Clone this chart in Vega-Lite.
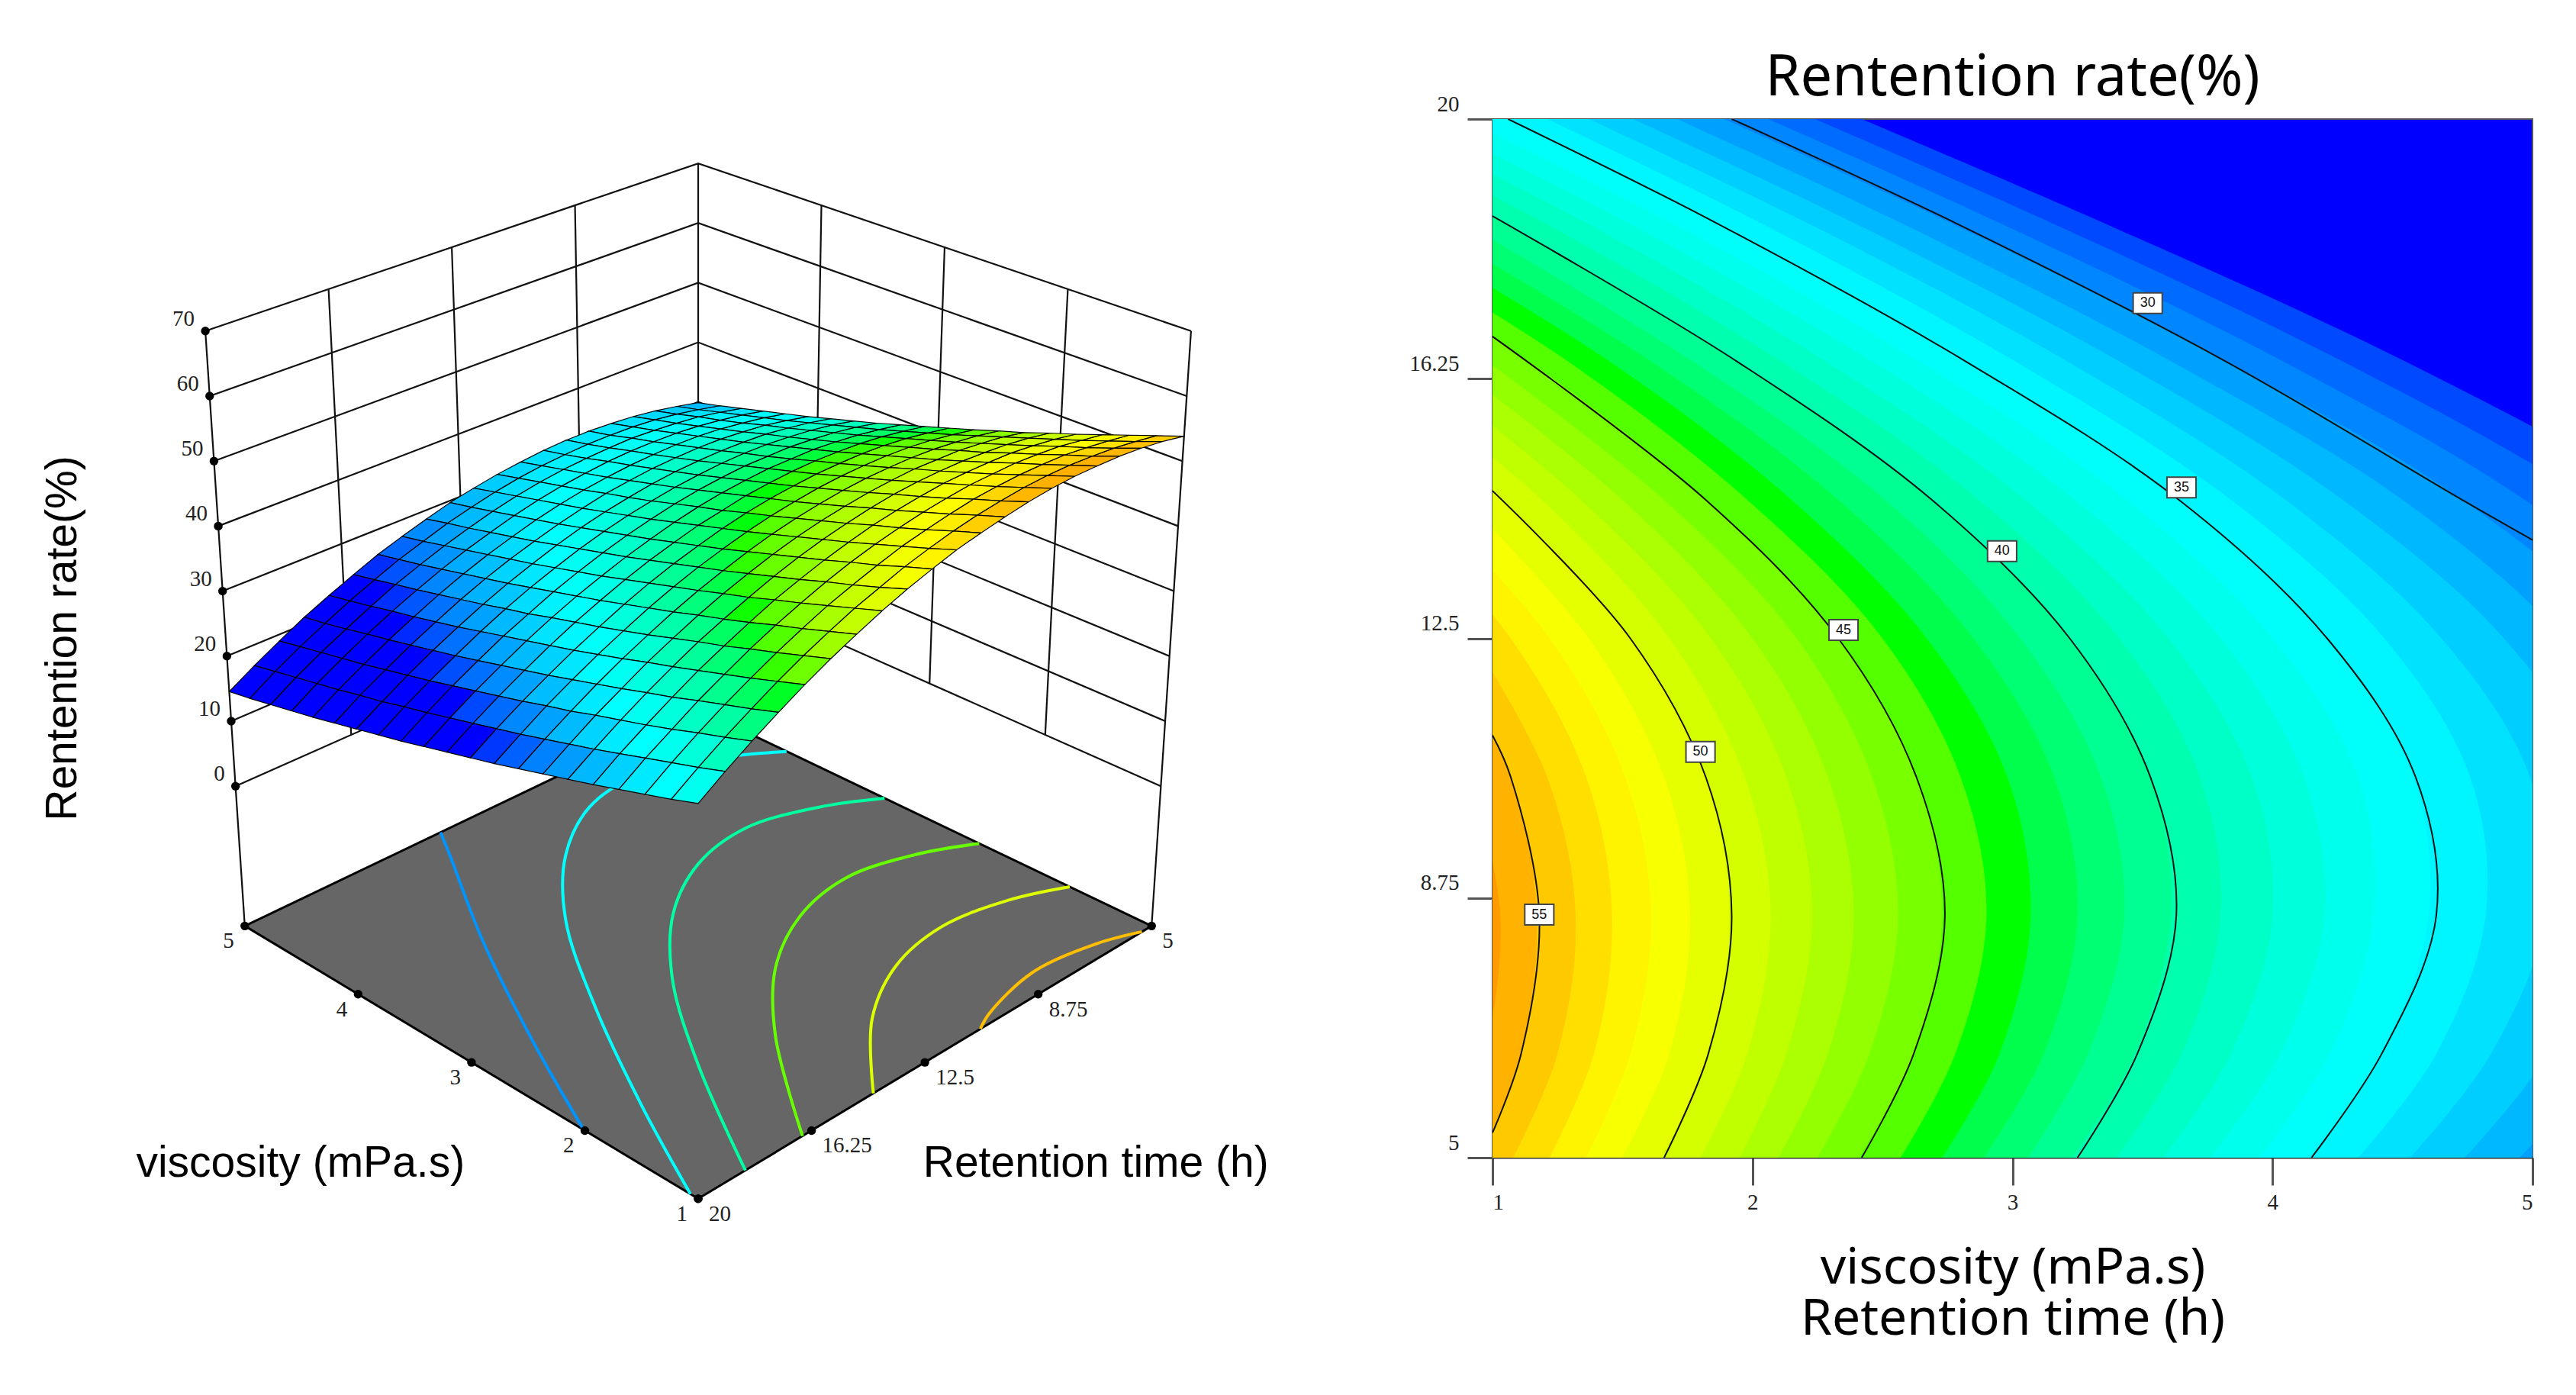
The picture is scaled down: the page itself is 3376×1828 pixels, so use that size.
{"$schema":"https://vega.github.io/schema/vega-lite/v6.json","padding":{"left":0,"top":65,"right":0,"bottom":40},"background":"white","spacing":0,"config":{"view":{"stroke":null}},
"datasets":{
"bands":[
{"L":27,"t":5,"v":5.86},{"L":27,"t":6.5,"v":6.29},{"L":27,"t":8.5,"v":6.62},{"L":27,"t":10.5,"v":6.6},{"L":27,"t":12.5,"v":6.21},{"L":27,"t":14.5,"v":5.49},{"L":27,"t":16.5,"v":4.51},{"L":27,"t":18.5,"v":3.35},{"L":27,"t":20,"v":2.42},
{"L":28,"t":5,"v":5.62},{"L":28,"t":6.5,"v":6.02},{"L":28,"t":8.5,"v":6.32},{"L":28,"t":10.5,"v":6.29},{"L":28,"t":12.5,"v":5.91},{"L":28,"t":14.5,"v":5.22},{"L":28,"t":16.5,"v":4.27},{"L":28,"t":18.5,"v":3.15},{"L":28,"t":20,"v":2.24},
{"L":29,"t":5,"v":5.39},{"L":29,"t":6.5,"v":5.77},{"L":29,"t":8.5,"v":6.04},{"L":29,"t":10.5,"v":6},{"L":29,"t":12.5,"v":5.63},{"L":29,"t":14.5,"v":4.97},{"L":29,"t":16.5,"v":4.04},{"L":29,"t":18.5,"v":2.95},{"L":29,"t":20,"v":2.06},
{"L":30,"t":5,"v":5.17},{"L":30,"t":6.5,"v":5.52},{"L":30,"t":8.5,"v":5.78},{"L":30,"t":10.5,"v":5.73},{"L":30,"t":12.5,"v":5.37},{"L":30,"t":14.5,"v":4.73},{"L":30,"t":16.5,"v":3.82},{"L":30,"t":18.5,"v":2.76},{"L":30,"t":20,"v":1.89},
{"L":31,"t":5,"v":4.95},{"L":31,"t":6.5,"v":5.29},{"L":31,"t":8.5,"v":5.53},{"L":31,"t":10.5,"v":5.48},{"L":31,"t":12.5,"v":5.12},{"L":31,"t":14.5,"v":4.5},{"L":31,"t":16.5,"v":3.61},{"L":31,"t":18.5,"v":2.57},{"L":31,"t":20,"v":1.71},
{"L":32,"t":5,"v":4.74},{"L":32,"t":6.5,"v":5.06},{"L":32,"t":8.5,"v":5.29},{"L":32,"t":10.5,"v":5.24},{"L":32,"t":12.5,"v":4.89},{"L":32,"t":14.5,"v":4.27},{"L":32,"t":16.5,"v":3.41},{"L":32,"t":18.5,"v":2.39},{"L":32,"t":20,"v":1.54},
{"L":33,"t":5,"v":4.53},{"L":33,"t":6.5,"v":4.84},{"L":33,"t":8.5,"v":5.05},{"L":33,"t":10.5,"v":4.99},{"L":33,"t":12.5,"v":4.65},{"L":33,"t":14.5,"v":4.05},{"L":33,"t":16.5,"v":3.21},{"L":33,"t":18.5,"v":2.21},{"L":33,"t":20,"v":1.37},
{"L":34,"t":5,"v":4.33},{"L":34,"t":6.5,"v":4.63},{"L":34,"t":8.5,"v":4.82},{"L":34,"t":10.5,"v":4.76},{"L":34,"t":12.5,"v":4.43},{"L":34,"t":14.5,"v":3.84},{"L":34,"t":16.5,"v":3.01},{"L":34,"t":18.5,"v":2.03},{"L":34,"t":20,"v":1.21},
{"L":35,"t":5,"v":4.14},{"L":35,"t":6.5,"v":4.42},{"L":35,"t":8.5,"v":4.6},{"L":35,"t":10.5,"v":4.54},{"L":35,"t":12.5,"v":4.21},{"L":35,"t":14.5,"v":3.64},{"L":35,"t":16.5,"v":2.82},{"L":35,"t":18.5,"v":1.86},{"L":35,"t":20,"v":1.05},
{"L":36,"t":5,"v":3.95},{"L":36,"t":6.5,"v":4.22},{"L":36,"t":8.5,"v":4.39},{"L":36,"t":10.5,"v":4.33},{"L":36,"t":12.5,"v":4},{"L":36,"t":14.5,"v":3.44},{"L":36,"t":16.5,"v":2.64},{"L":36,"t":18.5,"v":1.69},{"L":36,"t":20,"v":0.89},
{"L":37,"t":5,"v":3.76},{"L":37,"t":6.5,"v":4.03},{"L":37,"t":8.5,"v":4.2},{"L":37,"t":10.5,"v":4.12},{"L":37,"t":12.5,"v":3.8},{"L":37,"t":14.5,"v":3.24},{"L":37,"t":16.5,"v":2.46},{"L":37,"t":18.5,"v":1.52},{"L":37,"t":20,"v":0.73},
{"L":38,"t":5,"v":3.58},{"L":38,"t":6.5,"v":3.84},{"L":38,"t":8.5,"v":4},{"L":38,"t":10.5,"v":3.92},{"L":38,"t":12.5,"v":3.6},{"L":38,"t":14.5,"v":3.05},{"L":38,"t":16.5,"v":2.28},{"L":38,"t":18.5,"v":1.36},{"L":38,"t":20,"v":0.57},
{"L":39,"t":5,"v":3.4},{"L":39,"t":6.5,"v":3.65},{"L":39,"t":8.5,"v":3.8},{"L":39,"t":10.5,"v":3.72},{"L":39,"t":12.5,"v":3.41},{"L":39,"t":14.5,"v":2.87},{"L":39,"t":16.5,"v":2.11},{"L":39,"t":18.5,"v":1.2},{"L":39,"t":20,"v":0.41},
{"L":40,"t":5,"v":3.23},{"L":40,"t":6.5,"v":3.47},{"L":40,"t":8.5,"v":3.61},{"L":40,"t":10.5,"v":3.53},{"L":40,"t":12.5,"v":3.22},{"L":40,"t":14.5,"v":2.69},{"L":40,"t":16.5,"v":1.94},{"L":40,"t":18.5,"v":1.04},{"L":40,"t":20,"v":0.26},
{"L":41,"t":5,"v":3.06},{"L":41,"t":6.5,"v":3.29},{"L":41,"t":8.5,"v":3.43},{"L":41,"t":10.5,"v":3.34},{"L":41,"t":12.5,"v":3.03},{"L":41,"t":14.5,"v":2.51},{"L":41,"t":16.5,"v":1.77},{"L":41,"t":18.5,"v":0.89},
{"L":42,"t":5,"v":2.89},{"L":42,"t":6.5,"v":3.12},{"L":42,"t":8.5,"v":3.25},{"L":42,"t":10.5,"v":3.16},{"L":42,"t":12.5,"v":2.85},{"L":42,"t":14.5,"v":2.33},{"L":42,"t":16.5,"v":1.61},{"L":42,"t":18.5,"v":0.73},
{"L":43,"t":5,"v":2.73},{"L":43,"t":6.5,"v":2.95},{"L":43,"t":8.5,"v":3.07},{"L":43,"t":10.5,"v":2.98},{"L":43,"t":12.5,"v":2.67},{"L":43,"t":14.5,"v":2.15},{"L":43,"t":16.5,"v":1.45},{"L":43,"t":18.5,"v":0.58},
{"L":44,"t":5,"v":2.57},{"L":44,"t":6.5,"v":2.78},{"L":44,"t":8.5,"v":2.9},{"L":44,"t":10.5,"v":2.8},{"L":44,"t":12.5,"v":2.5},{"L":44,"t":14.5,"v":1.98},{"L":44,"t":16.5,"v":1.29},{"L":44,"t":18.5,"v":0.43},
{"L":45,"t":5,"v":2.41},{"L":45,"t":6.5,"v":2.62},{"L":45,"t":8.5,"v":2.73},{"L":45,"t":10.5,"v":2.63},{"L":45,"t":12.5,"v":2.33},{"L":45,"t":14.5,"v":1.82},{"L":45,"t":16.5,"v":1.14},{"L":45,"t":18.5,"v":0.29},
{"L":46,"t":5,"v":2.25},{"L":46,"t":6.5,"v":2.45},{"L":46,"t":8.5,"v":2.56},{"L":46,"t":10.5,"v":2.46},{"L":46,"t":12.5,"v":2.17},{"L":46,"t":14.5,"v":1.66},{"L":46,"t":16.5,"v":0.98},
{"L":47,"t":5,"v":2.1},{"L":47,"t":6.5,"v":2.29},{"L":47,"t":8.5,"v":2.39},{"L":47,"t":10.5,"v":2.29},{"L":47,"t":12.5,"v":2},{"L":47,"t":14.5,"v":1.5},{"L":47,"t":16.5,"v":0.83},
{"L":48,"t":5,"v":1.95},{"L":48,"t":6.5,"v":2.13},{"L":48,"t":8.5,"v":2.23},{"L":48,"t":10.5,"v":2.13},{"L":48,"t":12.5,"v":1.84},{"L":48,"t":14.5,"v":1.34},{"L":48,"t":16.5,"v":0.68},
{"L":49,"t":5,"v":1.8},{"L":49,"t":6.5,"v":1.98},{"L":49,"t":8.5,"v":2.07},{"L":49,"t":10.5,"v":1.97},{"L":49,"t":12.5,"v":1.68},{"L":49,"t":14.5,"v":1.19},{"L":49,"t":16.5,"v":0.53},
{"L":50,"t":5,"v":1.65},{"L":50,"t":6.5,"v":1.83},{"L":50,"t":8.5,"v":1.91},{"L":50,"t":10.5,"v":1.82},{"L":50,"t":12.5,"v":1.53},{"L":50,"t":14.5,"v":1.04},{"L":50,"t":16.5,"v":0.39},
{"L":51,"t":5,"v":1.5},{"L":51,"t":6.5,"v":1.68},{"L":51,"t":8.5,"v":1.76},{"L":51,"t":10.5,"v":1.66},{"L":51,"t":12.5,"v":1.37},{"L":51,"t":14.5,"v":0.89},
{"L":52,"t":5,"v":1.36},{"L":52,"t":6.5,"v":1.53},{"L":52,"t":8.5,"v":1.61},{"L":52,"t":10.5,"v":1.51},{"L":52,"t":12.5,"v":1.22},{"L":52,"t":14.5,"v":0.74},
{"L":53,"t":5,"v":1.22},{"L":53,"t":6.5,"v":1.39},{"L":53,"t":8.5,"v":1.46},{"L":53,"t":10.5,"v":1.36},{"L":53,"t":12.5,"v":1.07},{"L":53,"t":14.5,"v":0.6},
{"L":54,"t":5,"v":1.08},{"L":54,"t":6.5,"v":1.25},{"L":54,"t":8.5,"v":1.32},{"L":54,"t":10.5,"v":1.21},{"L":54,"t":12.5,"v":0.92},
{"L":55,"t":5,"v":0.95},{"L":55,"t":6.5,"v":1.11},{"L":55,"t":8.5,"v":1.17},{"L":55,"t":10.5,"v":1.07},{"L":55,"t":12.5,"v":0.77},
{"L":56,"t":5,"v":0.82},{"L":56,"t":6.5,"v":0.97},{"L":56,"t":8.5,"v":1.03},{"L":56,"t":10.5,"v":0.92}
],
"contours":[
{"L":30,"t":13.92,"v":5},{"L":30,"t":14.5,"v":4.73},{"L":30,"t":16.5,"v":3.82},{"L":30,"t":18.5,"v":2.78},{"L":30,"t":20,"v":1.92},
{"L":35,"t":5,"v":4.15},{"L":35,"t":6.5,"v":4.42},{"L":35,"t":8.5,"v":4.63},{"L":35,"t":10.5,"v":4.55},{"L":35,"t":12.5,"v":4.21},{"L":35,"t":14.5,"v":3.64},{"L":35,"t":16.5,"v":2.82},{"L":35,"t":18.5,"v":1.86},{"L":35,"t":20,"v":1.06},
{"L":40,"t":5,"v":3.25},{"L":40,"t":6.5,"v":3.48},{"L":40,"t":8.5,"v":3.63},{"L":40,"t":10.5,"v":3.53},{"L":40,"t":12.5,"v":3.22},{"L":40,"t":14.5,"v":2.69},{"L":40,"t":16.5,"v":1.94},{"L":40,"t":18.6,"v":1},
{"L":45,"t":5,"v":2.42},{"L":45,"t":6.5,"v":2.62},{"L":45,"t":8.5,"v":2.74},{"L":45,"t":10.5,"v":2.63},{"L":45,"t":12.5,"v":2.33},{"L":45,"t":14.5,"v":1.82},{"L":45,"t":16.86,"v":1},
{"L":50,"t":5,"v":1.66},{"L":50,"t":6.5,"v":1.83},{"L":50,"t":8.5,"v":1.92},{"L":50,"t":10.5,"v":1.82},{"L":50,"t":12.5,"v":1.53},{"L":50,"t":14.63,"v":1},
{"L":55,"t":5.36,"v":1},{"L":55,"t":6.5,"v":1.11},{"L":55,"t":8.5,"v":1.18},{"L":55,"t":10.5,"v":1.07},{"L":55,"t":11.1,"v":1}
],
"labels":[
{"v":3.52,"t":17.34,"lab":"30"},{"v":3.65,"t":14.68,"lab":"35"},{"v":2.96,"t":13.76,"lab":"40"},{"v":2.35,"t":12.62,"lab":"45"},{"v":1.8,"t":10.86,"lab":"50"},{"v":1.18,"t":8.51,"lab":"55"}
],
"frame":[
{"kind":"wall","id":"z0","o":0,"v":5,"t":20,"z":0},{"kind":"wall","id":"z0","o":1,"v":5,"t":5,"z":0},{"kind":"wall","id":"z0","o":2,"v":1,"t":5,"z":0},
{"kind":"wall","id":"z10","o":0,"v":5,"t":20,"z":10},{"kind":"wall","id":"z10","o":1,"v":5,"t":5,"z":10},{"kind":"wall","id":"z10","o":2,"v":1,"t":5,"z":10},
{"kind":"wall","id":"z20","o":0,"v":5,"t":20,"z":20},{"kind":"wall","id":"z20","o":1,"v":5,"t":5,"z":20},{"kind":"wall","id":"z20","o":2,"v":1,"t":5,"z":20},
{"kind":"wall","id":"z30","o":0,"v":5,"t":20,"z":30},{"kind":"wall","id":"z30","o":1,"v":5,"t":5,"z":30},{"kind":"wall","id":"z30","o":2,"v":1,"t":5,"z":30},
{"kind":"wall","id":"z40","o":0,"v":5,"t":20,"z":40},{"kind":"wall","id":"z40","o":1,"v":5,"t":5,"z":40},{"kind":"wall","id":"z40","o":2,"v":1,"t":5,"z":40},
{"kind":"wall","id":"z50","o":0,"v":5,"t":20,"z":50},{"kind":"wall","id":"z50","o":1,"v":5,"t":5,"z":50},{"kind":"wall","id":"z50","o":2,"v":1,"t":5,"z":50},
{"kind":"wall","id":"z60","o":0,"v":5,"t":20,"z":60},{"kind":"wall","id":"z60","o":1,"v":5,"t":5,"z":60},{"kind":"wall","id":"z60","o":2,"v":1,"t":5,"z":60},
{"kind":"wall","id":"z70","o":0,"v":5,"t":20,"z":70},{"kind":"wall","id":"z70","o":1,"v":5,"t":5,"z":70},{"kind":"wall","id":"z70","o":2,"v":1,"t":5,"z":70},
{"kind":"wall","id":"t16","o":0,"v":5,"t":16.25,"z":0},{"kind":"wall","id":"t16","o":1,"v":5,"t":16.25,"z":70},
{"kind":"wall","id":"t12","o":0,"v":5,"t":12.5,"z":0},{"kind":"wall","id":"t12","o":1,"v":5,"t":12.5,"z":70},
{"kind":"wall","id":"t8","o":0,"v":5,"t":8.75,"z":0},{"kind":"wall","id":"t8","o":1,"v":5,"t":8.75,"z":70},
{"kind":"wall","id":"v2","o":0,"v":2,"t":5,"z":0},{"kind":"wall","id":"v2","o":1,"v":2,"t":5,"z":70},
{"kind":"wall","id":"v3","o":0,"v":3,"t":5,"z":0},{"kind":"wall","id":"v3","o":1,"v":3,"t":5,"z":70},
{"kind":"wall","id":"v4","o":0,"v":4,"t":5,"z":0},{"kind":"wall","id":"v4","o":1,"v":4,"t":5,"z":70},
{"kind":"wall","id":"cl","o":0,"v":5,"t":20,"z":-21.5},{"kind":"wall","id":"cl","o":1,"v":5,"t":20,"z":70},
{"kind":"wall","id":"cb","o":0,"v":5,"t":5,"z":-21.5},{"kind":"wall","id":"cb","o":1,"v":5,"t":5,"z":70},
{"kind":"wall","id":"cr","o":0,"v":1,"t":5,"z":-21.5},{"kind":"wall","id":"cr","o":1,"v":1,"t":5,"z":70},
{"kind":"floor","o":0,"v":1,"t":20,"z":-21.5},{"kind":"floor","o":1,"v":5,"t":20,"z":-21.5},{"kind":"floor","o":2,"v":5,"t":5,"z":-21.5},{"kind":"floor","o":3,"v":1,"t":5,"z":-21.5},{"kind":"floor","o":4,"v":1,"t":20,"z":-21.5},
{"kind":"tz","v":5,"t":20,"z":0,"lab":"0"},{"kind":"tz","v":5,"t":20,"z":10,"lab":"10"},{"kind":"tz","v":5,"t":20,"z":20,"lab":"20"},{"kind":"tz","v":5,"t":20,"z":30,"lab":"30"},{"kind":"tz","v":5,"t":20,"z":40,"lab":"40"},{"kind":"tz","v":5,"t":20,"z":50,"lab":"50"},{"kind":"tz","v":5,"t":20,"z":60,"lab":"60"},{"kind":"tz","v":5,"t":20,"z":70,"lab":"70"},
{"kind":"tv","v":1,"t":20,"z":-21.5,"lab":"1"},{"kind":"tv","v":2,"t":20,"z":-21.5,"lab":"2"},{"kind":"tv","v":3,"t":20,"z":-21.5,"lab":"3"},{"kind":"tv","v":4,"t":20,"z":-21.5,"lab":"4"},{"kind":"tv","v":5,"t":20,"z":-21.5,"lab":"5"},
{"kind":"tt","v":1,"t":20,"z":-21.5,"lab":"20"},{"kind":"tt","v":1,"t":16.25,"z":-21.5,"lab":"16.25"},{"kind":"tt","v":1,"t":12.5,"z":-21.5,"lab":"12.5"},{"kind":"tt","v":1,"t":8.75,"z":-21.5,"lab":"8.75"},{"kind":"tt","v":1,"t":5,"z":-21.5,"lab":"5"},
{"kind":"th","v":2.93,"t":25.92,"z":-21.5,"lab":"viscosity (mPa.s)"},{"kind":"th","v":-0.578,"t":12.76,"z":-21.5,"lab":"Retention time (h)"},
{"kind":"tr","v":5.49,"t":23.3,"z":24.25,"lab":"Rentention rate(%)"}
],
"surface":[
{"v":1,"t":5,"z":54.6},{"v":1.2,"t":5,"z":53.2},{"v":1.4,"t":5,"z":51.8},{"v":1.6,"t":5,"z":50.4},{"v":1.8,"t":5,"z":49},{"v":2,"t":5,"z":47.7},{"v":2.2,"t":5,"z":46.3},{"v":2.4,"t":5,"z":45.1},{"v":2.6,"t":5,"z":43.8},{"v":2.8,"t":5,"z":42.6},{"v":3,"t":5,"z":41.4},{"v":3.2,"t":5,"z":40.2},{"v":3.4,"t":5,"z":39},{"v":3.6,"t":5,"z":37.9},{"v":3.8,"t":5,"z":36.8},{"v":4,"t":5,"z":35.7},{"v":4.2,"t":5,"z":34.7},{"v":4.4,"t":5,"z":33.7},{"v":4.6,"t":5,"z":32.7},{"v":4.8,"t":5,"z":31.7},{"v":5,"t":5,"z":30.8},
{"v":1,"t":5.75,"z":55.3},{"v":1.2,"t":5.75,"z":53.8},{"v":1.4,"t":5.75,"z":52.4},{"v":1.6,"t":5.75,"z":51},{"v":1.8,"t":5.75,"z":49.7},{"v":2,"t":5.75,"z":48.4},{"v":2.2,"t":5.75,"z":47.1},{"v":2.4,"t":5.75,"z":45.8},{"v":2.6,"t":5.75,"z":44.5},{"v":2.8,"t":5.75,"z":43.3},{"v":3,"t":5.75,"z":42.1},{"v":3.2,"t":5.75,"z":40.9},{"v":3.4,"t":5.75,"z":39.8},{"v":3.6,"t":5.75,"z":38.7},{"v":3.8,"t":5.75,"z":37.6},{"v":4,"t":5.75,"z":36.5},{"v":4.2,"t":5.75,"z":35.5},{"v":4.4,"t":5.75,"z":34.5},{"v":4.6,"t":5.75,"z":33.5},{"v":4.8,"t":5.75,"z":32.5},{"v":5,"t":5.75,"z":31.6},
{"v":1,"t":6.5,"z":55.8},{"v":1.2,"t":6.5,"z":54.3},{"v":1.4,"t":6.5,"z":52.9},{"v":1.6,"t":6.5,"z":51.6},{"v":1.8,"t":6.5,"z":50.2},{"v":2,"t":6.5,"z":48.9},{"v":2.2,"t":6.5,"z":47.6},{"v":2.4,"t":6.5,"z":46.3},{"v":2.6,"t":6.5,"z":45.1},{"v":2.8,"t":6.5,"z":43.9},{"v":3,"t":6.5,"z":42.7},{"v":3.2,"t":6.5,"z":41.5},{"v":3.4,"t":6.5,"z":40.4},{"v":3.6,"t":6.5,"z":39.3},{"v":3.8,"t":6.5,"z":38.2},{"v":4,"t":6.5,"z":37.2},{"v":4.2,"t":6.5,"z":36.1},{"v":4.4,"t":6.5,"z":35.1},{"v":4.6,"t":6.5,"z":34.2},{"v":4.8,"t":6.5,"z":33.2},{"v":5,"t":6.5,"z":32.3},
{"v":1,"t":7.25,"z":56.1},{"v":1.2,"t":7.25,"z":54.6},{"v":1.4,"t":7.25,"z":53.3},{"v":1.6,"t":7.25,"z":51.9},{"v":1.8,"t":7.25,"z":50.6},{"v":2,"t":7.25,"z":49.2},{"v":2.2,"t":7.25,"z":48},{"v":2.4,"t":7.25,"z":46.7},{"v":2.6,"t":7.25,"z":45.5},{"v":2.8,"t":7.25,"z":44.3},{"v":3,"t":7.25,"z":43.1},{"v":3.2,"t":7.25,"z":41.9},{"v":3.4,"t":7.25,"z":40.8},{"v":3.6,"t":7.25,"z":39.7},{"v":3.8,"t":7.25,"z":38.7},{"v":4,"t":7.25,"z":37.6},{"v":4.2,"t":7.25,"z":36.6},{"v":4.4,"t":7.25,"z":35.6},{"v":4.6,"t":7.25,"z":34.6},{"v":4.8,"t":7.25,"z":33.7},{"v":5,"t":7.25,"z":32.8},
{"v":1,"t":8,"z":56.2},{"v":1.2,"t":8,"z":54.8},{"v":1.4,"t":8,"z":53.4},{"v":1.6,"t":8,"z":52.1},{"v":1.8,"t":8,"z":50.7},{"v":2,"t":8,"z":49.4},{"v":2.2,"t":8,"z":48.1},{"v":2.4,"t":8,"z":46.9},{"v":2.6,"t":8,"z":45.7},{"v":2.8,"t":8,"z":44.5},{"v":3,"t":8,"z":43.3},{"v":3.2,"t":8,"z":42.2},{"v":3.4,"t":8,"z":41.1},{"v":3.6,"t":8,"z":40},{"v":3.8,"t":8,"z":38.9},{"v":4,"t":8,"z":37.9},{"v":4.2,"t":8,"z":36.9},{"v":4.4,"t":8,"z":35.9},{"v":4.6,"t":8,"z":34.9},{"v":4.8,"t":8,"z":34},{"v":5,"t":8,"z":33.1},
{"v":1,"t":8.75,"z":56.2},{"v":1.2,"t":8.75,"z":54.8},{"v":1.4,"t":8.75,"z":53.4},{"v":1.6,"t":8.75,"z":52},{"v":1.8,"t":8.75,"z":50.7},{"v":2,"t":8.75,"z":49.4},{"v":2.2,"t":8.75,"z":48.2},{"v":2.4,"t":8.75,"z":46.9},{"v":2.6,"t":8.75,"z":45.7},{"v":2.8,"t":8.75,"z":44.5},{"v":3,"t":8.75,"z":43.4},{"v":3.2,"t":8.75,"z":42.2},{"v":3.4,"t":8.75,"z":41.1},{"v":3.6,"t":8.75,"z":40.1},{"v":3.8,"t":8.75,"z":39},{"v":4,"t":8.75,"z":38},{"v":4.2,"t":8.75,"z":37},{"v":4.4,"t":8.75,"z":36},{"v":4.6,"t":8.75,"z":35.1},{"v":4.8,"t":8.75,"z":34.1},{"v":5,"t":8.75,"z":33.3},
{"v":1,"t":9.5,"z":56},{"v":1.2,"t":9.5,"z":54.6},{"v":1.4,"t":9.5,"z":53.2},{"v":1.6,"t":9.5,"z":51.9},{"v":1.8,"t":9.5,"z":50.6},{"v":2,"t":9.5,"z":49.3},{"v":2.2,"t":9.5,"z":48},{"v":2.4,"t":9.5,"z":46.8},{"v":2.6,"t":9.5,"z":45.6},{"v":2.8,"t":9.5,"z":44.4},{"v":3,"t":9.5,"z":43.3},{"v":3.2,"t":9.5,"z":42.2},{"v":3.4,"t":9.5,"z":41.1},{"v":3.6,"t":9.5,"z":40},{"v":3.8,"t":9.5,"z":38.9},{"v":4,"t":9.5,"z":37.9},{"v":4.2,"t":9.5,"z":36.9},{"v":4.4,"t":9.5,"z":36},{"v":4.6,"t":9.5,"z":35},{"v":4.8,"t":9.5,"z":34.1},{"v":5,"t":9.5,"z":33.3},
{"v":1,"t":10.25,"z":55.6},{"v":1.2,"t":10.25,"z":54.2},{"v":1.4,"t":10.25,"z":52.9},{"v":1.6,"t":10.25,"z":51.5},{"v":1.8,"t":10.25,"z":50.2},{"v":2,"t":10.25,"z":49},{"v":2.2,"t":10.25,"z":47.7},{"v":2.4,"t":10.25,"z":46.5},{"v":2.6,"t":10.25,"z":45.3},{"v":2.8,"t":10.25,"z":44.1},{"v":3,"t":10.25,"z":43},{"v":3.2,"t":10.25,"z":41.9},{"v":3.4,"t":10.25,"z":40.8},{"v":3.6,"t":10.25,"z":39.7},{"v":3.8,"t":10.25,"z":38.7},{"v":4,"t":10.25,"z":37.7},{"v":4.2,"t":10.25,"z":36.7},{"v":4.4,"t":10.25,"z":35.8},{"v":4.6,"t":10.25,"z":34.8},{"v":4.8,"t":10.25,"z":33.9},{"v":5,"t":10.25,"z":33.1},
{"v":1,"t":11,"z":55},{"v":1.2,"t":11,"z":53.7},{"v":1.4,"t":11,"z":52.3},{"v":1.6,"t":11,"z":51},{"v":1.8,"t":11,"z":49.7},{"v":2,"t":11,"z":48.5},{"v":2.2,"t":11,"z":47.2},{"v":2.4,"t":11,"z":46},{"v":2.6,"t":11,"z":44.8},{"v":2.8,"t":11,"z":43.7},{"v":3,"t":11,"z":42.6},{"v":3.2,"t":11,"z":41.5},{"v":3.4,"t":11,"z":40.4},{"v":3.6,"t":11,"z":39.3},{"v":3.8,"t":11,"z":38.3},{"v":4,"t":11,"z":37.3},{"v":4.2,"t":11,"z":36.3},{"v":4.4,"t":11,"z":35.4},{"v":4.6,"t":11,"z":34.5},{"v":4.8,"t":11,"z":33.6},{"v":5,"t":11,"z":32.7},
{"v":1,"t":11.75,"z":54.3},{"v":1.2,"t":11.75,"z":53},{"v":1.4,"t":11.75,"z":51.6},{"v":1.6,"t":11.75,"z":50.3},{"v":1.8,"t":11.75,"z":49.1},{"v":2,"t":11.75,"z":47.8},{"v":2.2,"t":11.75,"z":46.6},{"v":2.4,"t":11.75,"z":45.4},{"v":2.6,"t":11.75,"z":44.2},{"v":2.8,"t":11.75,"z":43.1},{"v":3,"t":11.75,"z":41.9},{"v":3.2,"t":11.75,"z":40.9},{"v":3.4,"t":11.75,"z":39.8},{"v":3.6,"t":11.75,"z":38.7},{"v":3.8,"t":11.75,"z":37.7},{"v":4,"t":11.75,"z":36.8},{"v":4.2,"t":11.75,"z":35.8},{"v":4.4,"t":11.75,"z":34.9},{"v":4.6,"t":11.75,"z":34},{"v":4.8,"t":11.75,"z":33.1},{"v":5,"t":11.75,"z":32.2},
{"v":1,"t":12.5,"z":53.5},{"v":1.2,"t":12.5,"z":52.1},{"v":1.4,"t":12.5,"z":50.8},{"v":1.6,"t":12.5,"z":49.5},{"v":1.8,"t":12.5,"z":48.2},{"v":2,"t":12.5,"z":47},{"v":2.2,"t":12.5,"z":45.8},{"v":2.4,"t":12.5,"z":44.6},{"v":2.6,"t":12.5,"z":43.4},{"v":2.8,"t":12.5,"z":42.3},{"v":3,"t":12.5,"z":41.2},{"v":3.2,"t":12.5,"z":40.1},{"v":3.4,"t":12.5,"z":39},{"v":3.6,"t":12.5,"z":38},{"v":3.8,"t":12.5,"z":37},{"v":4,"t":12.5,"z":36},{"v":4.2,"t":12.5,"z":35.1},{"v":4.4,"t":12.5,"z":34.2},{"v":4.6,"t":12.5,"z":33.3},{"v":4.8,"t":12.5,"z":32.4},{"v":5,"t":12.5,"z":31.5},
{"v":1,"t":13.25,"z":52.4},{"v":1.2,"t":13.25,"z":51.1},{"v":1.4,"t":13.25,"z":49.7},{"v":1.6,"t":13.25,"z":48.5},{"v":1.8,"t":13.25,"z":47.2},{"v":2,"t":13.25,"z":46},{"v":2.2,"t":13.25,"z":44.8},{"v":2.4,"t":13.25,"z":43.6},{"v":2.6,"t":13.25,"z":42.4},{"v":2.8,"t":13.25,"z":41.3},{"v":3,"t":13.25,"z":40.2},{"v":3.2,"t":13.25,"z":39.1},{"v":3.4,"t":13.25,"z":38.1},{"v":3.6,"t":13.25,"z":37.1},{"v":3.8,"t":13.25,"z":36.1},{"v":4,"t":13.25,"z":35.1},{"v":4.2,"t":13.25,"z":34.2},{"v":4.4,"t":13.25,"z":33.3},{"v":4.6,"t":13.25,"z":32.4},{"v":4.8,"t":13.25,"z":31.5},{"v":5,"t":13.25,"z":30.7},
{"v":1,"t":14,"z":51.2},{"v":1.2,"t":14,"z":49.8},{"v":1.4,"t":14,"z":48.5},{"v":1.6,"t":14,"z":47.3},{"v":1.8,"t":14,"z":46},{"v":2,"t":14,"z":44.8},{"v":2.2,"t":14,"z":43.6},{"v":2.4,"t":14,"z":42.4},{"v":2.6,"t":14,"z":41.3},{"v":2.8,"t":14,"z":40.2},{"v":3,"t":14,"z":39.1},{"v":3.2,"t":14,"z":38},{"v":3.4,"t":14,"z":37},{"v":3.6,"t":14,"z":36},{"v":3.8,"t":14,"z":35},{"v":4,"t":14,"z":34},{"v":4.2,"t":14,"z":33.1},{"v":4.4,"t":14,"z":32.2},{"v":4.6,"t":14,"z":31.3},{"v":4.8,"t":14,"z":30.5},{"v":5,"t":14,"z":29.6},
{"v":1,"t":14.75,"z":49.8},{"v":1.2,"t":14.75,"z":48.5},{"v":1.4,"t":14.75,"z":47.2},{"v":1.6,"t":14.75,"z":45.9},{"v":1.8,"t":14.75,"z":44.7},{"v":2,"t":14.75,"z":43.4},{"v":2.2,"t":14.75,"z":42.3},{"v":2.4,"t":14.75,"z":41.1},{"v":2.6,"t":14.75,"z":40},{"v":2.8,"t":14.75,"z":38.9},{"v":3,"t":14.75,"z":37.8},{"v":3.2,"t":14.75,"z":36.7},{"v":3.4,"t":14.75,"z":35.7},{"v":3.6,"t":14.75,"z":34.7},{"v":3.8,"t":14.75,"z":33.7},{"v":4,"t":14.75,"z":32.8},{"v":4.2,"t":14.75,"z":31.9},{"v":4.4,"t":14.75,"z":31},{"v":4.6,"t":14.75,"z":30.1},{"v":4.8,"t":14.75,"z":29.2},{"v":5,"t":14.75,"z":28.4},
{"v":1,"t":15.5,"z":48.2},{"v":1.2,"t":15.5,"z":46.9},{"v":1.4,"t":15.5,"z":45.6},{"v":1.6,"t":15.5,"z":44.4},{"v":1.8,"t":15.5,"z":43.1},{"v":2,"t":15.5,"z":41.9},{"v":2.2,"t":15.5,"z":40.8},{"v":2.4,"t":15.5,"z":39.6},{"v":2.6,"t":15.5,"z":38.5},{"v":2.8,"t":15.5,"z":37.4},{"v":3,"t":15.5,"z":36.3},{"v":3.2,"t":15.5,"z":35.3},{"v":3.4,"t":15.5,"z":34.3},{"v":3.6,"t":15.5,"z":33.3},{"v":3.8,"t":15.5,"z":32.3},{"v":4,"t":15.5,"z":31.4},{"v":4.2,"t":15.5,"z":30.5},{"v":4.4,"t":15.5,"z":29.6},{"v":4.6,"t":15.5,"z":28.7},{"v":4.8,"t":15.5,"z":27.9},{"v":5,"t":15.5,"z":27.1},
{"v":1,"t":16.25,"z":46.5},{"v":1.2,"t":16.25,"z":45.2},{"v":1.4,"t":16.25,"z":43.9},{"v":1.6,"t":16.25,"z":42.7},{"v":1.8,"t":16.25,"z":41.4},{"v":2,"t":16.25,"z":40.3},{"v":2.2,"t":16.25,"z":39.1},{"v":2.4,"t":16.25,"z":37.9},{"v":2.6,"t":16.25,"z":36.8},{"v":2.8,"t":16.25,"z":35.7},{"v":3,"t":16.25,"z":34.7},{"v":3.2,"t":16.25,"z":33.7},{"v":3.4,"t":16.25,"z":32.6},{"v":3.6,"t":16.25,"z":31.7},{"v":3.8,"t":16.25,"z":30.7},{"v":4,"t":16.25,"z":29.8},{"v":4.2,"t":16.25,"z":28.9},{"v":4.4,"t":16.25,"z":28},{"v":4.6,"t":16.25,"z":27.2},{"v":4.8,"t":16.25,"z":26.3},{"v":5,"t":16.25,"z":25.5},
{"v":1,"t":17,"z":44.6},{"v":1.2,"t":17,"z":43.3},{"v":1.4,"t":17,"z":42},{"v":1.6,"t":17,"z":40.8},{"v":1.8,"t":17,"z":39.6},{"v":2,"t":17,"z":38.4},{"v":2.2,"t":17,"z":37.3},{"v":2.4,"t":17,"z":36.1},{"v":2.6,"t":17,"z":35},{"v":2.8,"t":17,"z":33.9},{"v":3,"t":17,"z":32.9},{"v":3.2,"t":17,"z":31.9},{"v":3.4,"t":17,"z":30.9},{"v":3.6,"t":17,"z":29.9},{"v":3.8,"t":17,"z":28.9},{"v":4,"t":17,"z":28},{"v":4.2,"t":17,"z":27.1},{"v":4.4,"t":17,"z":26.3},{"v":4.6,"t":17,"z":25.4},{"v":4.8,"t":17,"z":24.6},{"v":5,"t":17,"z":23.8},
{"v":1,"t":17.75,"z":42.5},{"v":1.2,"t":17.75,"z":41.2},{"v":1.4,"t":17.75,"z":40},{"v":1.6,"t":17.75,"z":38.8},{"v":1.8,"t":17.75,"z":37.5},{"v":2,"t":17.75,"z":36.4},{"v":2.2,"t":17.75,"z":35.2},{"v":2.4,"t":17.75,"z":34.1},{"v":2.6,"t":17.75,"z":33},{"v":2.8,"t":17.75,"z":31.9},{"v":3,"t":17.75,"z":30.9},{"v":3.2,"t":17.75,"z":29.9},{"v":3.4,"t":17.75,"z":28.9},{"v":3.6,"t":17.75,"z":27.9},{"v":3.8,"t":17.75,"z":27},{"v":4,"t":17.75,"z":26.1},{"v":4.2,"t":17.75,"z":25.2},{"v":4.4,"t":17.75,"z":24.4},{"v":4.6,"t":17.75,"z":23.5},{"v":4.8,"t":17.75,"z":22.7},{"v":5,"t":17.75,"z":22},
{"v":1,"t":18.5,"z":40.3},{"v":1.2,"t":18.5,"z":39},{"v":1.4,"t":18.5,"z":37.8},{"v":1.6,"t":18.5,"z":36.5},{"v":1.8,"t":18.5,"z":35.3},{"v":2,"t":18.5,"z":34.2},{"v":2.2,"t":18.5,"z":33.1},{"v":2.4,"t":18.5,"z":31.9},{"v":2.6,"t":18.5,"z":30.9},{"v":2.8,"t":18.5,"z":29.8},{"v":3,"t":18.5,"z":28.8},{"v":3.2,"t":18.5,"z":27.8},{"v":3.4,"t":18.5,"z":26.8},{"v":3.6,"t":18.5,"z":25.8},{"v":3.8,"t":18.5,"z":24.9},{"v":4,"t":18.5,"z":24},{"v":4.2,"t":18.5,"z":23.1},{"v":4.4,"t":18.5,"z":22.3},{"v":4.6,"t":18.5,"z":21.5},{"v":4.8,"t":18.5,"z":20.7},{"v":5,"t":18.5,"z":19.9},
{"v":1,"t":19.25,"z":37.9},{"v":1.2,"t":19.25,"z":36.6},{"v":1.4,"t":19.25,"z":35.4},{"v":1.6,"t":19.25,"z":34.2},{"v":1.8,"t":19.25,"z":33},{"v":2,"t":19.25,"z":31.8},{"v":2.2,"t":19.25,"z":30.7},{"v":2.4,"t":19.25,"z":29.6},{"v":2.6,"t":19.25,"z":28.5},{"v":2.8,"t":19.25,"z":27.5},{"v":3,"t":19.25,"z":26.5},{"v":3.2,"t":19.25,"z":25.5},{"v":3.4,"t":19.25,"z":24.5},{"v":3.6,"t":19.25,"z":23.6},{"v":3.8,"t":19.25,"z":22.6},{"v":4,"t":19.25,"z":21.8},{"v":4.2,"t":19.25,"z":20.9},{"v":4.4,"t":19.25,"z":20.1},{"v":4.6,"t":19.25,"z":19.3},{"v":4.8,"t":19.25,"z":18.5},{"v":5,"t":19.25,"z":17.7},
{"v":1,"t":20,"z":35.3},{"v":1.2,"t":20,"z":34},{"v":1.4,"t":20,"z":32.8},{"v":1.6,"t":20,"z":31.6},{"v":1.8,"t":20,"z":30.4},{"v":2,"t":20,"z":29.3},{"v":2.2,"t":20,"z":28.2},{"v":2.4,"t":20,"z":27.1},{"v":2.6,"t":20,"z":26},{"v":2.8,"t":20,"z":25},{"v":3,"t":20,"z":24},{"v":3.2,"t":20,"z":23},{"v":3.4,"t":20,"z":22},{"v":3.6,"t":20,"z":21.1},{"v":3.8,"t":20,"z":20.2},{"v":4,"t":20,"z":19.3},{"v":4.2,"t":20,"z":18.4},{"v":4.4,"t":20,"z":17.6},{"v":4.6,"t":20,"z":16.8},{"v":4.8,"t":20,"z":16},{"v":5,"t":20,"z":15.3}
]},
"hconcat":[
{"width":1835,"height":1361,
"encoding":{"x":{"field":"sx","type":"quantitative","axis":null,"scale":{"domain":[0,852.3],"nice":false,"zero":false}},"y":{"field":"sy","type":"quantitative","axis":null,"scale":{"domain":[703,71],"nice":false,"zero":false}}},
"layer":[
{"data":{"name":"frame"},"transform":[{"filter":"datum.kind=='wall'"},
{"calculate":"(datum.v-1)/4","as":"a"},{"calculate":"(20-datum.t)/15","as":"b"},{"calculate":"(datum.z+21.5)/91.5","as":"Z"},{"calculate":"425+(datum.b-datum.a)*(276+24*datum.Z)","as":"sx"},{"calculate":"(1-datum.a)*(1-datum.b)*(728-388*datum.Z)+(datum.a+datum.b-2*datum.a*datum.b)*(562-362*datum.Z)+datum.a*datum.b*(430-332*datum.Z)","as":"sy"}],
"mark":{"type":"line","stroke":"#111","strokeWidth":2.2},"encoding":{"detail":{"field":"id"},"order":{"field":"o"}}},
{"data":{"name":"frame"},"transform":[{"filter":"datum.kind=='floor'"},
{"calculate":"(datum.v-1)/4","as":"a"},{"calculate":"(20-datum.t)/15","as":"b"},{"calculate":"(datum.z+21.5)/91.5","as":"Z"},{"calculate":"425+(datum.b-datum.a)*(276+24*datum.Z)","as":"sx"},{"calculate":"(1-datum.a)*(1-datum.b)*(728-388*datum.Z)+(datum.a+datum.b-2*datum.a*datum.b)*(562-362*datum.Z)+datum.a*datum.b*(430-332*datum.Z)","as":"sy"}],
"mark":{"type":"line","fill":"#666666","stroke":"#000","strokeWidth":3},"encoding":{"order":{"field":"o"}}},
{"data":{"name":"contours"},"transform":[{"calculate":"-23.33","as":"z"},
{"calculate":"1+0.1294*((datum.v-1)/4+(20-datum.t)/15)-0.0903*(0.25+0.75*datum.z/70)","as":"w"},{"calculate":"425+311.7*((20-datum.t)/15-(datum.v-1)/4)/datum.w","as":"sx"},{"calculate":"(728-93.3*((datum.v-1)/4+(20-datum.t)/15)-426.9*(0.25+0.75*datum.z/70))/datum.w","as":"sy"}],
"mark":{"type":"line","strokeWidth":4,"interpolate":"catmull-rom"},"encoding":{"detail":{"field":"L"},"order":{"field":"t"},"color":{"field":"L","type":"quantitative","legend":null,"scale":{"clamp":true,"domain":[26.5,35,43.5,52,60.5],"range":["#0000ff","#00ffff","#00ff00","#ffff00","#ff0000"]}}}},
{"data":{"name":"surface"},"transform":[{"calculate":"round((datum.v-1)/0.2)","as":"i"},{"calculate":"round((datum.t-5)/0.75)","as":"j"},{"calculate":"[0,1,2,3,4]","as":"corners"},{"flatten":["corners"],"as":["c"]},
{"calculate":"datum.i-((datum.c==1||datum.c==2)?1:0)","as":"ci"},{"calculate":"datum.j-((datum.c==2||datum.c==3)?1:0)","as":"cj"},{"filter":"datum.ci>=0&&datum.ci<20&&datum.cj>=0&&datum.cj<20"},{"calculate":"datum.ci*100+datum.cj","as":"cell"},
{"joinaggregate":[{"op":"mean","field":"z","as":"m"}],"groupby":["cell"]},
{"calculate":"1+0.1294*((datum.v-1)/4+(20-datum.t)/15)-0.0903*(0.25+0.75*datum.z/70)","as":"w"},{"calculate":"425+311.7*((20-datum.t)/15-(datum.v-1)/4)/datum.w","as":"sx"},{"calculate":"(728-93.3*((datum.v-1)/4+(20-datum.t)/15)-426.9*(0.25+0.75*datum.z/70))/datum.w","as":"sy"}],
"mark":{"type":"line","stroke":"#000","strokeWidth":1.2},"encoding":{"detail":{"field":"cell"},"order":{"field":"c"},"fill":{"field":"m","type":"quantitative","legend":null,"scale":{"clamp":true,"domain":[26.5,35,43.5,52,60.5],"range":["#0000ff","#00ffff","#00ff00","#ffff00","#ff0000"]}}}},
{"data":{"name":"frame"},"transform":[{"filter":"datum.kind=='tz'||datum.kind=='tv'||datum.kind=='tt'"},
{"calculate":"(datum.v-1)/4","as":"a"},{"calculate":"(20-datum.t)/15","as":"b"},{"calculate":"(datum.z+21.5)/91.5","as":"Z"},{"calculate":"425+(datum.b-datum.a)*(276+24*datum.Z)","as":"sx"},{"calculate":"(1-datum.a)*(1-datum.b)*(728-388*datum.Z)+(datum.a+datum.b-2*datum.a*datum.b)*(562-362*datum.Z)+datum.a*datum.b*(430-332*datum.Z)","as":"sy"}],
"layer":[
{"mark":{"type":"point","filled":true,"color":"#000","size":130,"opacity":1}},
{"transform":[{"filter":"datum.kind=='tz'"}],"mark":{"type":"text","font":"Liberation Serif","fontSize":29,"color":"#222","align":"right","baseline":"middle","dx":-14,"dy":-16},"encoding":{"text":{"field":"lab"}}},
{"transform":[{"filter":"datum.kind=='tv'"}],"mark":{"type":"text","font":"Liberation Serif","fontSize":29,"color":"#222","align":"right","baseline":"middle","dx":-14,"dy":20},"encoding":{"text":{"field":"lab"}}},
{"transform":[{"filter":"datum.kind=='tt'"}],"mark":{"type":"text","font":"Liberation Serif","fontSize":29,"color":"#222","align":"left","baseline":"middle","dx":14,"dy":20},"encoding":{"text":{"field":"lab"}}}
]},
{"data":{"name":"frame"},"transform":[{"filter":"datum.kind=='th'||datum.kind=='tr'"},
{"calculate":"(datum.v-1)/4","as":"a"},{"calculate":"(20-datum.t)/15","as":"b"},{"calculate":"(datum.z+21.5)/91.5","as":"Z"},{"calculate":"425+(datum.b-datum.a)*(276+24*datum.Z)","as":"sx"},{"calculate":"(1-datum.a)*(1-datum.b)*(728-388*datum.Z)+(datum.a+datum.b-2*datum.a*datum.b)*(562-362*datum.Z)+datum.a*datum.b*(430-332*datum.Z)","as":"sy"}],
"layer":[
{"transform":[{"filter":"datum.kind=='th'"}],"mark":{"type":"text","font":"Liberation Sans","fontSize":57,"color":"#000","align":"center","baseline":"middle"},"encoding":{"text":{"field":"lab"}}},
{"transform":[{"filter":"datum.kind=='tr'"}],"mark":{"type":"text","font":"Liberation Sans","fontSize":57,"color":"#000","align":"center","baseline":"middle","angle":270},"encoding":{"text":{"field":"lab"}}}
]}
]},
{"width":1363,"height":1361,
"view":{"fill":"#0000ff","stroke":"#555","strokeWidth":2},
"title":{"text":"Rentention rate(%)","font":"Noto Sans","fontSize":74,"fontWeight":"normal","color":"#000","anchor":"middle","offset":-19},
"encoding":{
"x":{"field":"v","type":"quantitative","scale":{"domain":[1,5],"nice":false,"zero":false},"axis":{"values":[1,2,3,4,5],"grid":false,"tickSize":36,"tickWidth":3,"tickColor":"#555","domainColor":"#333","domainWidth":2,"labelFont":"Liberation Serif","labelFontSize":29,"labelColor":"#222","labelPadding":8,"title":["viscosity (mPa.s)","Retention time (h)"],"titleFont":"Noto Sans","titleFontSize":66,"titleFontWeight":"normal","titleColor":"#000","titleLineHeight":67,"titlePadding":39}},
"y":{"field":"t","type":"quantitative","scale":{"domain":[5,20],"nice":false,"zero":false},"axis":{"values":[5,8.75,12.5,16.25,20],"labelExpr":"''+datum.value","grid":false,"tickSize":33,"tickWidth":3,"tickColor":"#555","domainColor":"#555","domainWidth":2,"labelFont":"Liberation Serif","labelFontSize":29,"labelColor":"#222","labelPadding":11,"labelBaseline":"bottom","labelOffset":-5,"labelBound":false,"labelFlush":false,"title":null,"minExtent":120,"maxExtent":120}}
},
"layer":[
{"data":{"name":"bands"},"transform":[{"calculate":"1","as":"b"},{"calculate":"datum.L+0.5","as":"level"}],"mark":{"type":"area","orient":"horizontal","interpolate":"catmull-rom","clip":true},"encoding":{"x":{"field":"v","type":"quantitative","stack":null},"x2":{"field":"b"},"detail":{"field":"L"},"color":{"field":"level","type":"quantitative","legend":null,"scale":{"clamp":true,"domain":[26.5,35,43.5,52,60.5],"range":["#0000ff","#00ffff","#00ff00","#ffff00","#ff0000"]}}}},
{"data":{"name":"contours"},"mark":{"type":"line","interpolate":"catmull-rom","stroke":"#111","strokeWidth":2,"clip":true},"encoding":{"detail":{"field":"L"},"order":{"field":"t"}}},
{"data":{"name":"labels"},"mark":{"type":"point","filled":true,"fill":"#fff","stroke":"#444","strokeWidth":2,"opacity":1,"shape":"M-1.41,-1H1.41V1H-1.41Z","size":729}},
{"data":{"name":"labels"},"mark":{"type":"text","font":"Liberation Sans","fontSize":18,"color":"#111","align":"center","baseline":"middle"},"encoding":{"text":{"field":"lab"}}}
]}
]}
